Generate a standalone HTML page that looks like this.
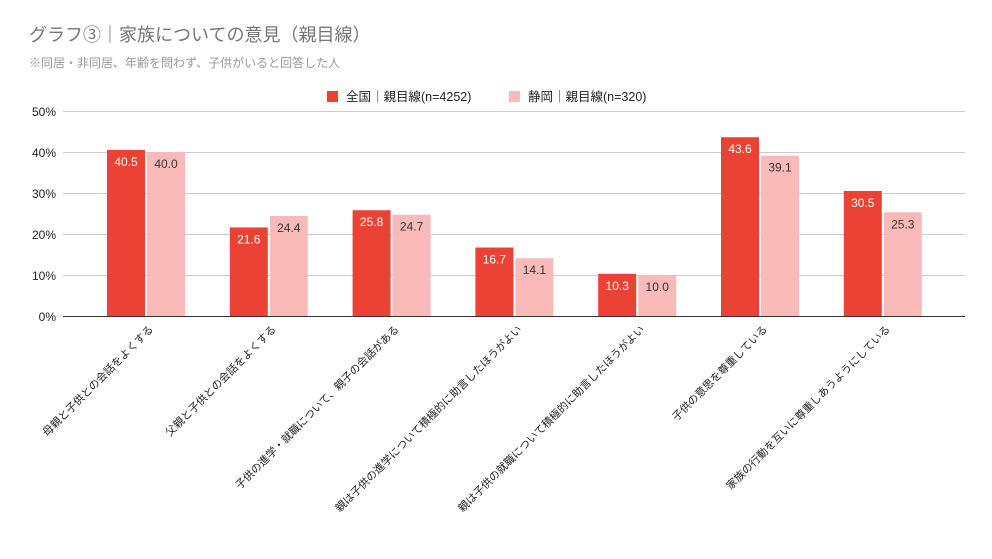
<!DOCTYPE html>
<html><head><meta charset="utf-8"><style>
html,body{margin:0;padding:0;background:#fff;}
svg{display:block;font-family:"Liberation Sans","Noto Sans CJK JP",sans-serif;}
</style></head><body>
<svg width="992" height="559" viewBox="0 0 992 559">
<text x="29" y="41" font-size="18" fill="#757575">グラフ③｜家族についての意見（親目線）</text>
<text x="29" y="67" font-size="12" fill="#999">※同居・非同居、年齢を問わず、子供がいると回答した人</text>
<rect x="327" y="91" width="11" height="11" fill="#ea4335"/>
<text x="346" y="101" font-size="12.5" fill="#222">全国｜親目線(n=4252)</text>
<rect x="509" y="91" width="11" height="11" fill="#fbbaba"/>
<text x="528" y="101" font-size="12.5" fill="#222">静岡｜親目線(n=320)</text>
<g stroke="#ccc" stroke-width="1">
<line x1="63" x2="965" y1="111.5" y2="111.5"/>
<line x1="63" x2="965" y1="152.5" y2="152.5"/>
<line x1="63" x2="965" y1="193.5" y2="193.5"/>
<line x1="63" x2="965" y1="234.5" y2="234.5"/>
<line x1="63" x2="965" y1="275.5" y2="275.5"/>
</g>
<g font-size="12" fill="#222" text-anchor="end">
<text x="56" y="116">50%</text><text x="56" y="157">40%</text><text x="56" y="198">30%</text>
<text x="56" y="239">20%</text><text x="56" y="280">10%</text><text x="56" y="321">0%</text>
</g>
<g fill="#ea4335">
<rect x="107" y="149.95" width="38" height="166.05"/>
<rect x="229.8" y="227.44" width="38" height="88.56"/>
<rect x="352.6" y="210.22" width="38" height="105.78"/>
<rect x="475.4" y="247.53" width="38" height="68.47"/>
<rect x="598.2" y="273.77" width="38" height="42.23"/>
<rect x="721" y="137.24" width="38" height="178.76"/>
<rect x="843.8" y="190.95" width="38" height="125.05"/>
</g>
<g fill="#fbbaba">
<rect x="147" y="152" width="38" height="164"/>
<rect x="269.8" y="215.96" width="38" height="100.04"/>
<rect x="392.6" y="214.73" width="38" height="101.27"/>
<rect x="515.4" y="258.19" width="38" height="57.81"/>
<rect x="638.2" y="275" width="38" height="41"/>
<rect x="761" y="155.69" width="38" height="160.31"/>
<rect x="883.8" y="212.27" width="38" height="103.73"/>
</g>
<g font-size="12" fill="#fff" text-anchor="middle">
<text x="126" y="166">40.5</text>
<text x="248.8" y="243.4">21.6</text>
<text x="371.6" y="226.2">25.8</text>
<text x="494.4" y="263.5">16.7</text>
<text x="617.2" y="289.8">10.3</text>
<text x="740" y="153.2">43.6</text>
<text x="862.8" y="207">30.5</text>
</g>
<g font-size="12" fill="#333" text-anchor="middle">
<text x="166" y="168">40.0</text>
<text x="288.8" y="232">24.4</text>
<text x="411.6" y="230.7">24.7</text>
<text x="534.4" y="274.2">14.1</text>
<text x="657.2" y="291">10.0</text>
<text x="780" y="171.7">39.1</text>
<text x="902.8" y="228.3">25.3</text>
</g>
<line x1="63" x2="965" y1="316.5" y2="316.5" stroke="#333" stroke-width="1"/>
<g font-size="10.8" fill="#222" text-anchor="end">
<text transform="translate(154,330) rotate(-45)">母親と子供との会話をよくする</text>
<text transform="translate(276.8,330) rotate(-45)">父親と子供との会話をよくする</text>
<text transform="translate(399.6,330) rotate(-45)">子供の進学・就職について、親子の会話がある</text>
<text transform="translate(522.4,330) rotate(-45)">親は子供の進学について積極的に助言したほうがよい</text>
<text transform="translate(645.2,330) rotate(-45)">親は子供の就職について積極的に助言したほうがよい</text>
<text transform="translate(768,330) rotate(-45)">子供の意思を尊重している</text>
<text transform="translate(890.8,330) rotate(-45)">家族の行動を互いに尊重しあうようにしている</text>
</g>
</svg>
</body></html>
